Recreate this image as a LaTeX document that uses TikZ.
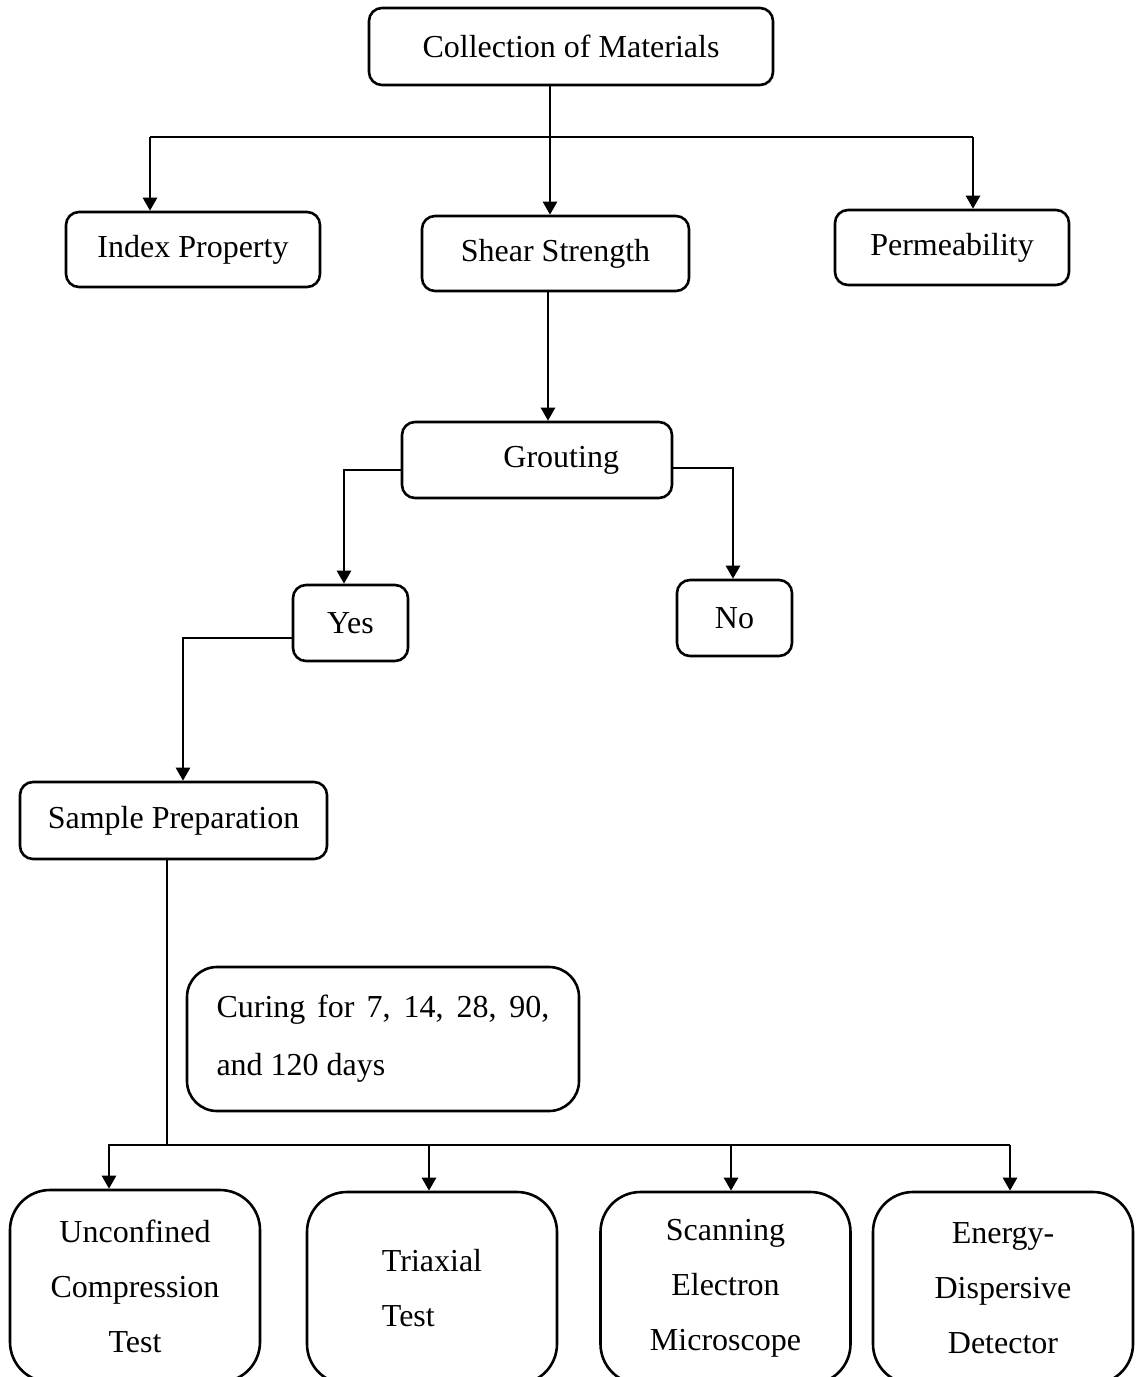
\documentclass[tikz,border=0pt]{standalone}
\usepackage{fontspec}
\setmainfont{Liberation Serif}
\usetikzlibrary{arrows.meta}

\tikzset{
  matbox/.style={draw, line width=1.3pt, rounded corners=6.5pt, inner sep=0pt},
  testbox/.style={matbox, rounded corners=20pt, minimum width=125pt, minimum height=96pt, align=center},
  feed/.style={line width=1.3pt, -{Triangle[width=7pt,length=6.5pt]}},
  wire/.style={line width=1.3pt},
}

\begin{document}
\begin{tikzpicture}[x=0.5pt, y=-0.5pt, font=\fontsize{16}{27.5}\selectfont]
  \useasboundingbox (0,0) rectangle (1136,1377);
  \clip (0,0) rectangle (1136,1377);

  \node[matbox, minimum width=202pt, minimum height=38.5pt] (coll) at (571,46.5) {Collection of Materials};
  \node[matbox, minimum width=127pt, minimum height=37.5pt] (index) at (193,249.5) {Index Property};
  \node[matbox, minimum width=133.5pt, minimum height=37.5pt] (shear) at (555.5,253.5) {Shear Strength};
  \node[matbox, minimum width=117pt, minimum height=37.5pt] (perm) at (952,247.5) {Permeability};

  \node[matbox, inner xsep=26.5pt, text width=82pt, align=right, minimum height=38pt] (grout) at (537,460) {Grouting};
  \node[matbox, minimum width=57.5pt, minimum height=38pt] (yes) at (350.5,623) {Yes};
  \node[matbox, minimum width=57.5pt, minimum height=38pt] (no) at (734.5,618) {No};

  \node[matbox, minimum width=153.5pt, minimum height=38.5pt] (sample) at (173.5,820.5) {Sample Preparation};
  \node[matbox, rounded corners=15pt, inner xsep=14.75pt, text width=166.5pt, align=justify,
        minimum height=72pt, font=\fontsize{16}{29}\selectfont] (curing) at (383,1039)
        {Curing for 7, 14, 28, 90, and 120 days};

  \node[testbox] (ucs) at (135,1286) {Unconfined\\Compression\\Test};
  \node[testbox, align=left] (tri) at (432,1288) {Triaxial\\Test};
  \node[testbox] (sem) at (725.5,1288) {Scanning\\Electron\\Microscope};
  \node[testbox, minimum width=130pt] (eds) at (1003,1288) {Energy-\\Dispersive\\Detector};

  % first split
  \coordinate (splitL) at (150,137);
  \coordinate (splitR) at (973,137);
  \draw[wire] (splitL) -- (splitR);
  \draw[feed] (splitL) -- (splitL |- index.north);
  \draw[feed] (splitR) -- (splitR |- perm.north);
  \draw[feed] ([xshift=-10.5pt]coll.south) -- ([xshift=-2.75pt]shear.north);

  \draw[feed] ([xshift=-3.75pt]shear.south) -- ([xshift=-3.75pt]shear.south |- grout.north);
  \draw[feed] ([yshift=-5pt]grout.west) -| ([xshift=-3.25pt]yes.north);
  \draw[feed] ([yshift=-4pt]grout.east) -| ([xshift=-0.75pt]no.north);
  \draw[feed] ([yshift=-7.5pt]yes.west) -| ([xshift=4.75pt]sample.north);

  % tests
  \coordinate (fanL) at (108,1145);
  \coordinate (fanR) at (1010,1145);
  \draw[wire] (fanL) -- (fanR);
  \draw[wire] ([xshift=-3.25pt]sample.south) -- ([xshift=-3.25pt]sample.south |- fanL);
  \foreach \x/\n in {109/ucs, 429/tri, 731/sem, 1010/eds} {
    \coordinate (drop-\n) at (\x,1145);
    \draw[feed] (drop-\n) -- (drop-\n |- \n.north);
  }
\end{tikzpicture}
\end{document}
